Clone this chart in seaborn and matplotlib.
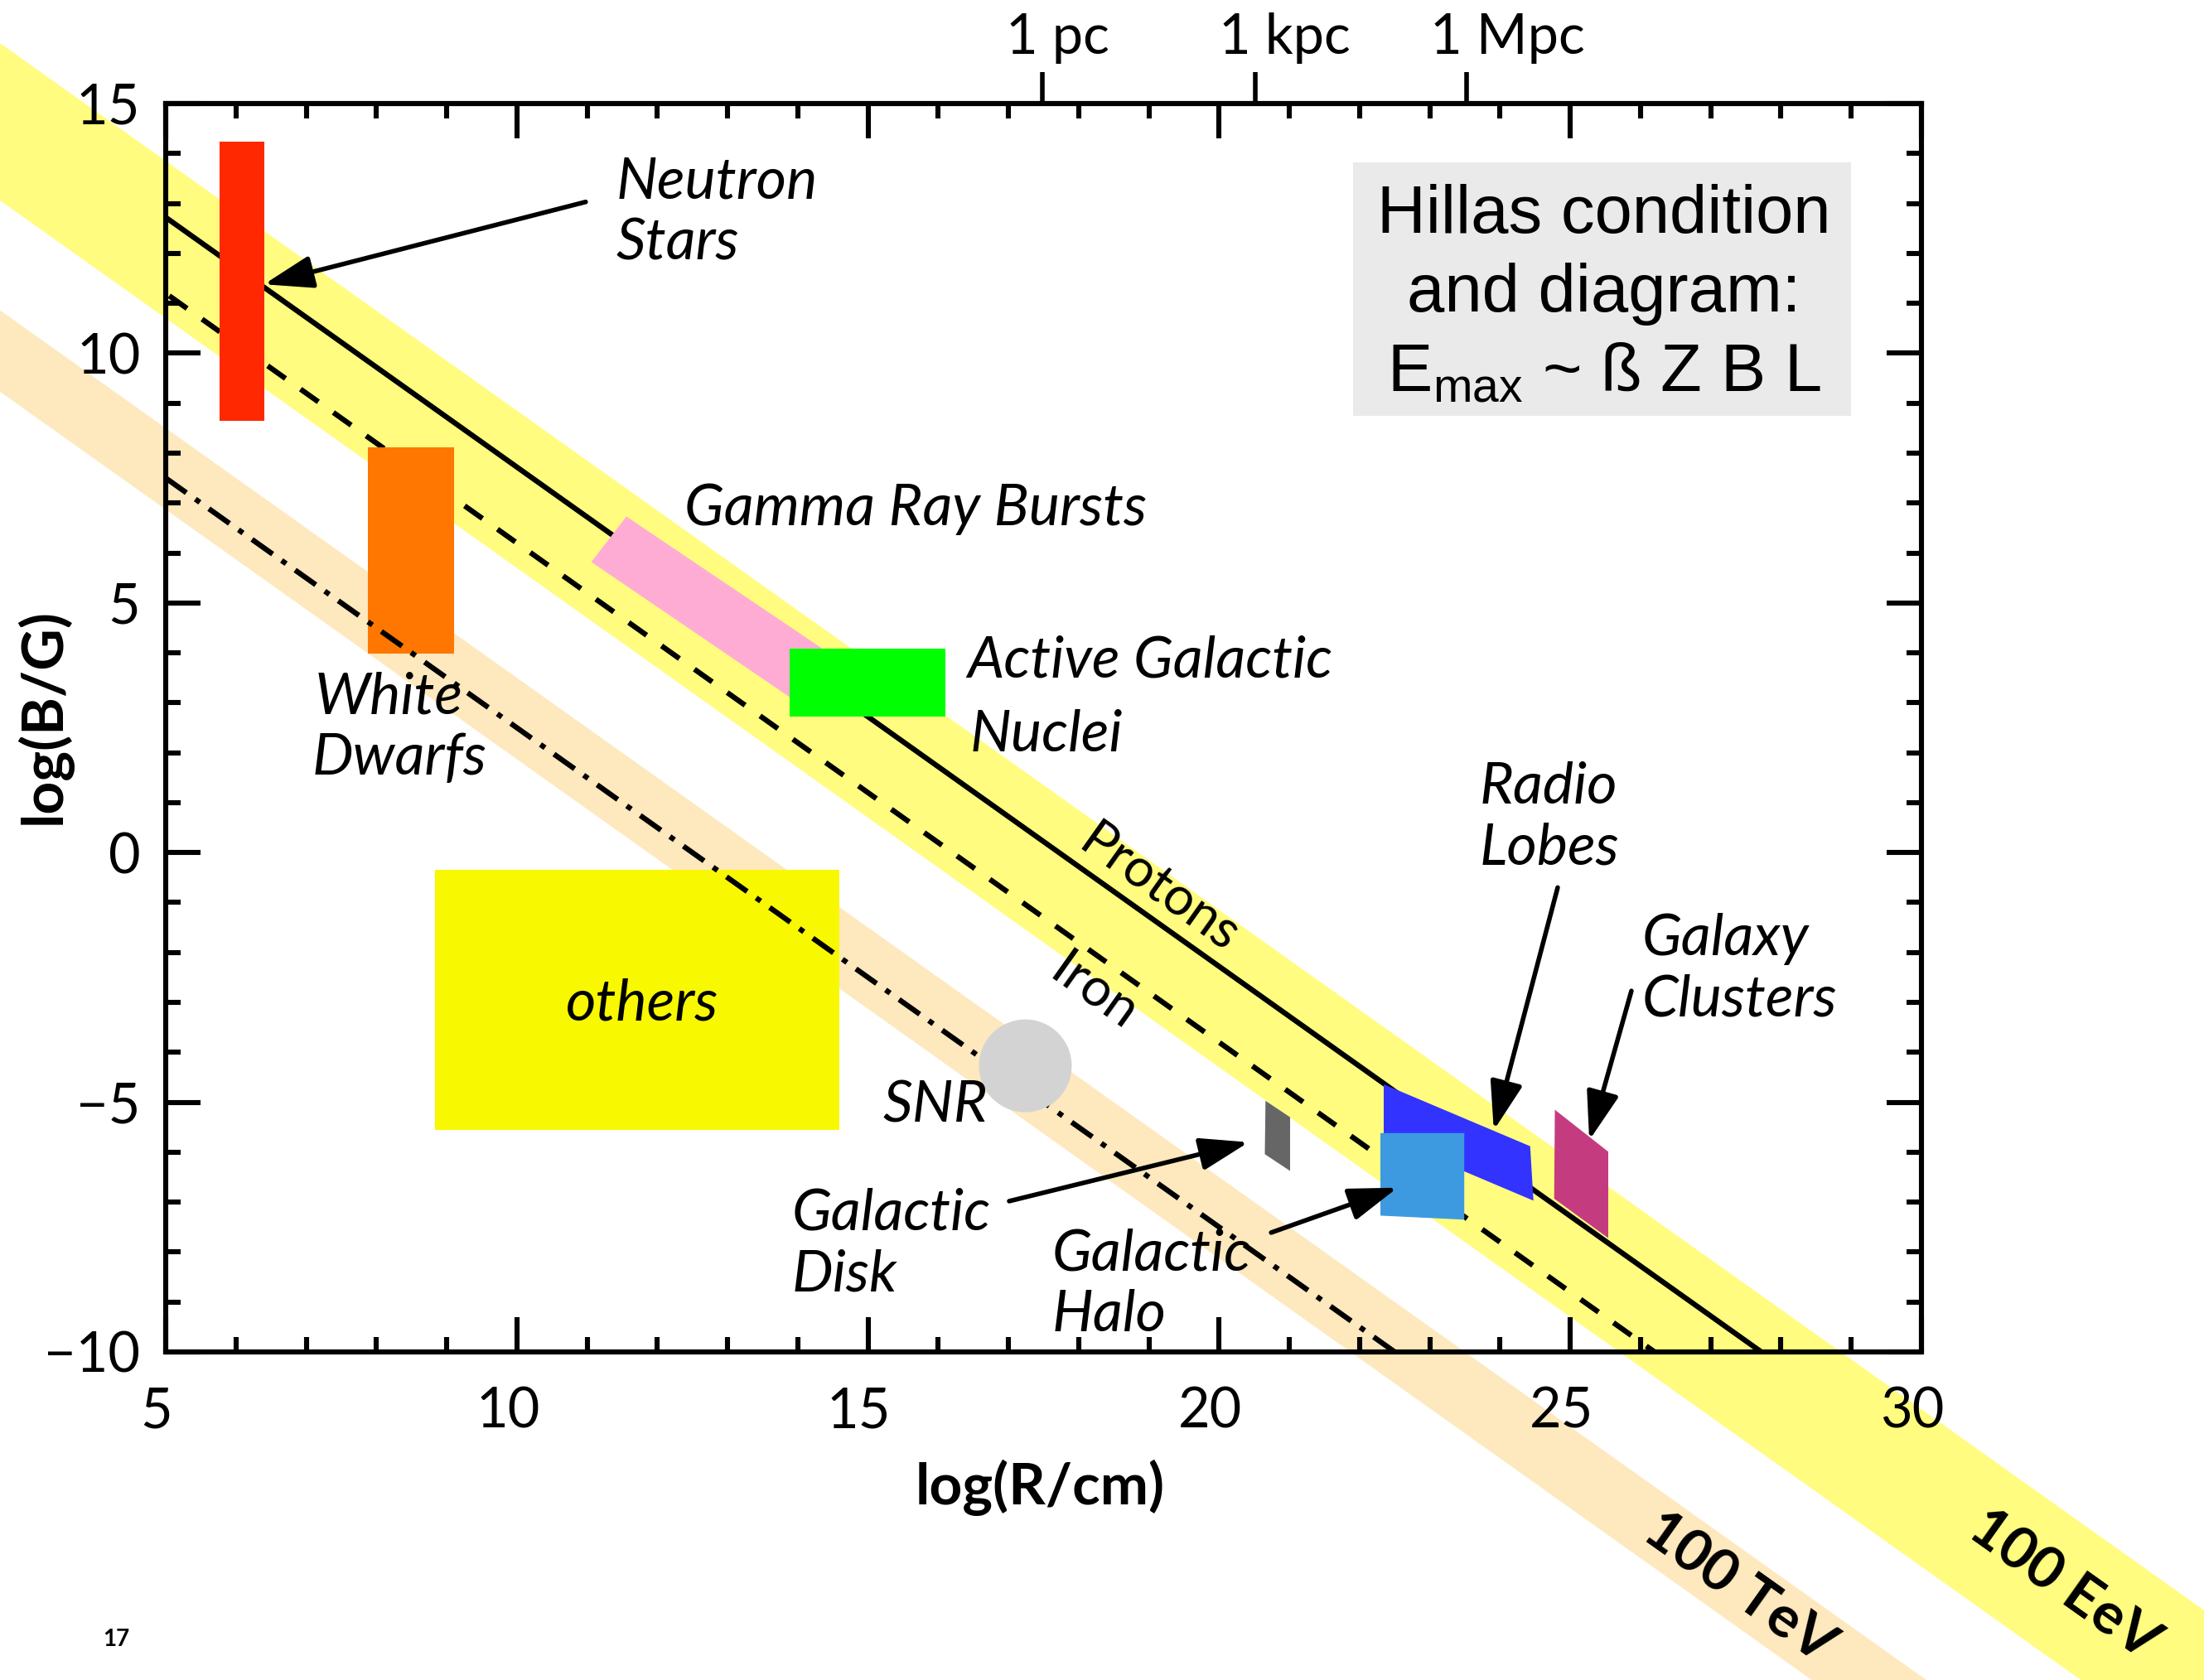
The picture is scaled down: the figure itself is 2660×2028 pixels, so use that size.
import matplotlib
matplotlib.use("Agg")
import matplotlib.pyplot as plt
import seaborn as sns
from matplotlib.patches import Polygon, Rectangle
from matplotlib.ticker import MultipleLocator, FixedLocator
from matplotlib.transforms import ScaledTranslation

# ---------------- data ----------------
x_limits = [5, 30]
y_limits = [-10, 15]
x_major_ticks = [5, 10, 15, 20, 25, 30]
y_major_ticks = [-10, -5, 0, 5, 10, 15]
x_tick_labels = ["5", "10", "15", "20", "25", "30"]
y_tick_labels = ["\u221210", "\u22125", "0", "5", "10", "15"]

dist_ticks = [17.48, 20.52, 23.52]
dist_labels = ["1 pc", "1 kpc", "1 Mpc"]

# Hillas limit lines: log(R/cm) vs log(B/G)
proton_x = [5.0, 27.72]
proton_y = [12.72, -10.0]
iron_x = [5.05, 26.2]
iron_y = [11.15, -10.0]
tev_line_x = [5.0, 22.5]
tev_line_y = [7.5, -10.0]

# energy bands (edges)
band_x = [-3.0, 40.0]
eev_upper = [21.85, -21.15]
eev_lower = [18.7, -24.3]
tev_upper = [16.5, -26.5]
tev_lower = [14.87, -28.13]

# source regions
neutron_x = [5.77, 6.40, 6.40, 5.77]
neutron_y = [14.23, 14.23, 8.64, 8.64]
dwarf_x = [7.88, 9.10, 9.10, 7.88]
dwarf_y = [8.11, 8.11, 3.99, 3.99]
grb_x = [11.56, 14.44, 13.93, 11.06]
grb_y = [6.73, 4.00, 3.07, 5.82]
agn_x = [13.88, 16.10, 16.10, 13.88]
agn_y = [4.08, 4.08, 2.73, 2.73]
others_x = [8.84, 14.59, 14.59, 8.84]
others_y = [-0.34, -0.34, -5.55, -5.55]
snr_x = [17.24]
snr_y = [-4.27]
disk_x = [20.66, 21.01, 21.01, 20.65]
disk_y = [-4.97, -5.30, -6.375, -6.04]
lobes_x = [22.343, 24.428, 24.475, 22.343]
lobes_y = [-4.64, -5.88, -6.97, -5.70]
halo_x = [22.296, 23.49, 23.49, 22.296]
halo_y = [-5.617, -5.617, -7.35, -7.27]
clusters_x = [24.78, 25.54, 25.54, 24.77]
clusters_y = [-5.15, -5.99, -7.72, -6.93]

# ---------------- style ----------------
sns.set_theme(style="white", rc={
    "axes.edgecolor": "black", "text.color": "black",
    "xtick.color": "black", "ytick.color": "black",
    "axes.labelcolor": "black", "lines.scale_dashes": False,
})
plt.rcParams["font.family"] = ["Lato", "DejaVu Sans"]
plt.rcParams["axes.unicode_minus"] = True

fig = plt.figure(figsize=(13.3, 10.14), dpi=200)
ax = fig.add_axes([0.07519, 0.19527, 0.79662, 0.74310])

# bands (extend beyond the frame)
fb1 = ax.fill_between(band_x, eev_lower, eev_upper, color="#FFFC80", lw=0, zorder=0.5)
fb2 = ax.fill_between(band_x, tev_lower, tev_upper, color="#FEE8BE", lw=0, zorder=0.5)
fb1.set_clip_on(False)
fb2.set_clip_on(False)

# Hillas box
ax.add_patch(Rectangle((21.91, 8.74), 29.0 - 21.91, 13.83 - 8.74,
                       facecolor="#EAEAEA", edgecolor="none", zorder=1))

# limit lines
LW = 2.3
sns.lineplot(x=proton_x, y=proton_y, ax=ax, color="black", lw=LW,
             sort=False, estimator=None, zorder=2)
sns.lineplot(x=iron_x, y=iron_y, ax=ax, color="black", lw=LW,
             linestyle=(0, (9.5, 8.0)), sort=False, estimator=None, zorder=2)
sns.lineplot(x=tev_line_x, y=tev_line_y, ax=ax, color="black", lw=LW,
             linestyle=(0, (11, 4.8, 2.4, 4.8)), sort=False, estimator=None, zorder=4)

# regions
regions = [
    (neutron_x, neutron_y, "#FF2800"),
    (dwarf_x, dwarf_y, "#FF7700"),
    (grb_x, grb_y, "#FFACD5"),
    (agn_x, agn_y, "#00FF00"),
    (others_x, others_y, "#F8F800"),
    (disk_x, disk_y, "#666666"),
    (lobes_x, lobes_y, "#3333FF"),
    (halo_x, halo_y, "#3D9AE0"),
    (clusters_x, clusters_y, "#C43C7F"),
]
for xs, ys, col in regions:
    ax.add_patch(Polygon(list(zip(xs, ys)), closed=True, facecolor=col,
                         edgecolor="none", zorder=3))

sns.scatterplot(x=snr_x, y=snr_y, ax=ax, s=1625, color="#D3D3D3",
                edgecolor="none", linewidth=0, zorder=5)

ax.set_xlim(*x_limits)
ax.set_ylim(*y_limits)

# ticks
ax.xaxis.set_major_locator(FixedLocator(x_major_ticks))
ax.yaxis.set_major_locator(FixedLocator(y_major_ticks))
ax.set_xticklabels(x_tick_labels)
ax.set_yticklabels(y_tick_labels)
ax.xaxis.set_minor_locator(MultipleLocator(1))
ax.yaxis.set_minor_locator(MultipleLocator(1))
ax.tick_params(which="both", direction="in", top=True, right=True,
               bottom=True, left=True, width=2.2, color="black")
ax.tick_params(which="major", length=15)
ax.tick_params(which="minor", length=6.5)
ax.tick_params(axis="x", which="major", labelsize=24, pad=15)
ax.tick_params(axis="y", which="major", labelsize=24, pad=11)
for sp in ax.spines.values():
    sp.set_linewidth(2.2)
    sp.set_color("black")
    sp.set_zorder(6)

# top distance axis
secax = ax.secondary_xaxis("top")
secax.set_xticks(dist_ticks)
secax.set_xticklabels(["", "", ""])
secax.tick_params(axis="x", direction="out", length=13.7, width=2.0, color="black")
secax.spines["top"].set_linewidth(2.2)
trans_top = ax.get_xaxis_transform()
for xt, lab in zip(dist_ticks, dist_labels):
    ax.text(xt - 0.52, 1.0398, lab, transform=trans_top, fontsize=24,
            ha="left", va="baseline")

# axis labels
ax.set_xlabel("log(R/cm)", fontsize=25, fontweight="bold")
ax.set_ylabel("log(B/G)", fontsize=25, fontweight="bold")
ax.xaxis.set_label_coords(0.498, -0.109)
ax.xaxis.label.set_va("center")
ax.yaxis.set_label_coords(-0.0696, 0.509)
ax.yaxis.label.set_va("center")

# italic labels (left x, baseline y)
it = dict(fontsize=25.3, fontstyle="italic", ha="left", va="baseline", zorder=7)
labels = [
    (11.41, 13.10, "Neutron"), (11.41, 11.87, "Stars"),
    (12.39, 6.55, "Gamma Ray Bursts"),
    (16.41, 3.52, "Active Galactic"), (16.45, 2.03, "Nuclei"),
    (7.12, 2.79, "White"), (7.08, 1.57, "Dwarfs"),
    (15.21, -5.39, "SNR"),
    (13.91, -7.55, "Galactic"), (13.91, -8.78, "Disk"),
    (17.62, -8.37, "Galactic"), (17.62, -9.58, "Halo"),
    (23.71, 0.98, "Radio"), (23.71, -0.23, "Lobes"),
    (26.02, -2.06, "Galaxy"), (26.02, -3.27, "Clusters"),
]
for x, y, t in labels:
    ax.text(x, y, t, **it)
ax.text(11.79, -3.35, "others", fontsize=25.3, fontstyle="italic",
        ha="center", va="baseline", zorder=7)

# line labels
ax.text(19.14, -0.72, "Protons", fontsize=23, rotation=-35.4,
        rotation_mode="anchor", ha="center", va="center", zorder=7)
ax.text(18.21, -2.80, "Iron", fontsize=23, rotation=-35.4,
        rotation_mode="anchor", ha="center", va="center", zorder=7)
ax.text(27.40, -14.73, "100 TeV", fontsize=25, fontweight="bold", rotation=-35.4,
        rotation_mode="anchor", ha="center", va="center", clip_on=False)
ax.text(32.03, -14.67, "100 EeV", fontsize=25, fontweight="bold", rotation=-35.4,
        rotation_mode="anchor", ha="center", va="center", clip_on=False)

# Hillas box text
hb = dict(fontsize=29.3, family=["Liberation Sans", "DejaVu Sans"], ha="center",
          va="baseline", zorder=2)
ax.text(25.48, 12.42, "Hillas condition", **hb)
ax.text(25.48, 10.83, "and diagram:", **hb)
ax.text(25.48, 9.24, r"E$_{\mathregular{max}}$ ~ ß Z B L", **hb)

# arrows (tail -> head)
arrows = [
    ((10.98, 13.03), (6.40, 11.38)),
    ((24.82, -0.70), (23.91, -5.56)),
    ((25.87, -2.77), (25.27, -5.76)),
    ((17.01, -6.98), (20.42, -5.80)),
    ((20.74, -7.61), (22.54, -6.71)),
]
for tail, head in arrows:
    ax.annotate("", xy=head, xytext=tail, zorder=7,
                arrowprops=dict(arrowstyle="-|>,head_length=0.9,head_width=0.3",
                                lw=2.0, color="black", mutation_scale=20,
                                shrinkA=0, shrinkB=0))

fig.text(140.5 / 2660, 1 - 1979 / 2028, "17", fontsize=10, fontweight="bold",
         ha="center", va="center")

# x tick labels in the reference sit slightly left of their ticks
shift = ScaledTranslation(-11 / 200, 0, fig.dpi_scale_trans)
for lbl in ax.get_xticklabels():
    lbl.set_transform(lbl.get_transform() + shift)

fig.savefig("out.png", dpi=200)
